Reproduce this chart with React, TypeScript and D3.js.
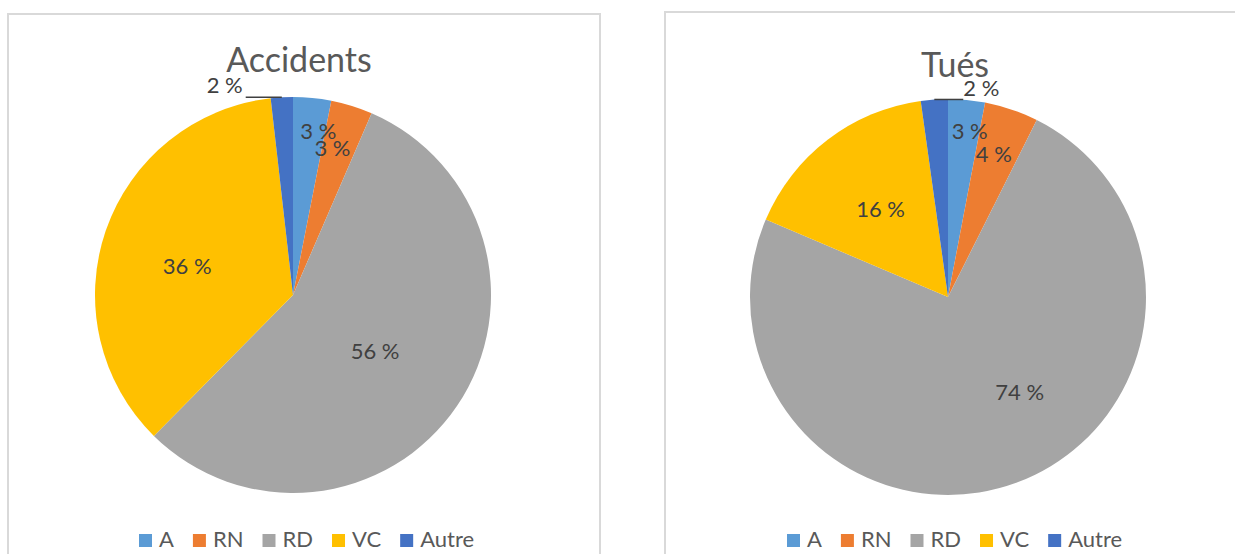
import React, { useEffect, useRef } from "react";
import * as d3 from "d3";

const categories = ["A", "RN", "RD", "VC", "Autre"];
const colors = ["#5B9BD5", "#ED7D31", "#A5A5A5", "#FFC000", "#4472C4"];
const accidentsValues = [3.1, 3.4, 55.9, 35.8, 1.8];
const tuesValues = [3.0, 4.4, 74.0, 16.4, 2.2];
const titles = ["Accidents", "Tués"];

// layout (not data): label radius factor & angular shift (deg) per slice
const accLabelK = [0.84, 0.77, 0.5, 0.555, 1.12];
const accLabelShift = [3.2, -2.3, 0, -3.5, -14.7];
const tuesLabelK = [0.85, 0.76, 0.6, 0.56, 1.07];
const tuesLabelShift = [2, -1, -17, 0, 13];

const FONT = "Lato, 'Open Sans', sans-serif";

export default function App() {
  const ref = useRef<SVGSVGElement>(null);

  useEffect(() => {
    const svg = d3.select(ref.current);
    svg.selectAll("*").remove();

    const charts = [
      {
        title: titles[0], values: accidentsValues, cx: 293, cy: 295, r: 198,
        titleX: 299, titleY: 72, box: { x: 8, y: 14, w: 592, h: 560 },
        legendX: 139, k: accLabelK, shift: accLabelShift,
      },
      {
        title: titles[1], values: tuesValues, cx: 948, cy: 297, r: 198,
        titleX: 955, titleY: 77, box: { x: 665, y: 12, w: 600, h: 560 },
        legendX: 787, k: tuesLabelK, shift: tuesLabelShift,
      },
    ];

    charts.forEach((c) => {
      const g = svg.append("g");
      g.append("rect")
        .attr("x", c.box.x).attr("y", c.box.y)
        .attr("width", c.box.w).attr("height", c.box.h)
        .attr("fill", "#fff").attr("stroke", "#d9d9d9").attr("stroke-width", 2);

      g.append("text")
        .attr("x", c.titleX).attr("y", c.titleY)
        .attr("text-anchor", "middle")
        .attr("font-family", FONT).attr("font-size", 34)
        .attr("fill", "#595959")
        .text(c.title);

      const pie = d3.pie<number>().sort(null).value((d) => d);
      const arcs = pie(c.values);
      const arc = d3.arc<d3.PieArcDatum<number>>().innerRadius(0).outerRadius(c.r);
      const pg = g.append("g").attr("transform", `translate(${c.cx},${c.cy})`);
      pg.selectAll("path").data(arcs).enter().append("path")
        .attr("d", arc as any)
        .attr("fill", (_d, i) => colors[i]);

      arcs.forEach((a, i) => {
        const mid = (a.startAngle + a.endAngle) / 2;
        const ang = mid + (c.shift[i] * Math.PI) / 180;
        const kr = c.k[i] * c.r;
        const lx = Math.sin(ang) * kr;
        const ly = -Math.cos(ang) * kr;
        const label = `${Math.round(a.data)} %`;
        const t = pg.append("text")
          .attr("x", lx).attr("y", ly)
          .attr("text-anchor", "middle").attr("dominant-baseline", "central")
          .attr("font-family", FONT).attr("font-size", 22)
          .attr("fill", "#404040")
          .text(label);
        if (c.k[i] > 1) {
          const ex = Math.sin(mid) * c.r;
          const ey = -Math.cos(mid) * c.r;
          const w = (t.node() as SVGTextElement).getComputedTextLength();
          const nearX = lx < ex ? lx + w / 2 + 3 : lx - w / 2;
          pg.append("line")
            .attr("x1", ex).attr("y1", ey).attr("x2", nearX).attr("y2", ey)
            .attr("stroke", "#404040").attr("stroke-width", 1.5);
        }
      });

      // legend
      const lg = g.append("g");
      let x = c.legendX;
      categories.forEach((cat, i) => {
        lg.append("rect").attr("x", x).attr("y", 534).attr("width", 13).attr("height", 13)
          .attr("fill", colors[i]);
        const tt = lg.append("text").attr("x", x + 20).attr("y", 547)
          .attr("font-family", FONT).attr("font-size", 22).attr("fill", "#595959")
          .text(cat);
        const w = (tt.node() as SVGTextElement).getComputedTextLength();
        x += 20 + w + 19;
      });
    });
  }, []);

  return (
    <div style={{ position: "absolute", left: 0, top: 0 }}>
      <svg ref={ref} width={1235} height={554} style={{ display: "block", background: "#fff" }} />
    </div>
  );
}
